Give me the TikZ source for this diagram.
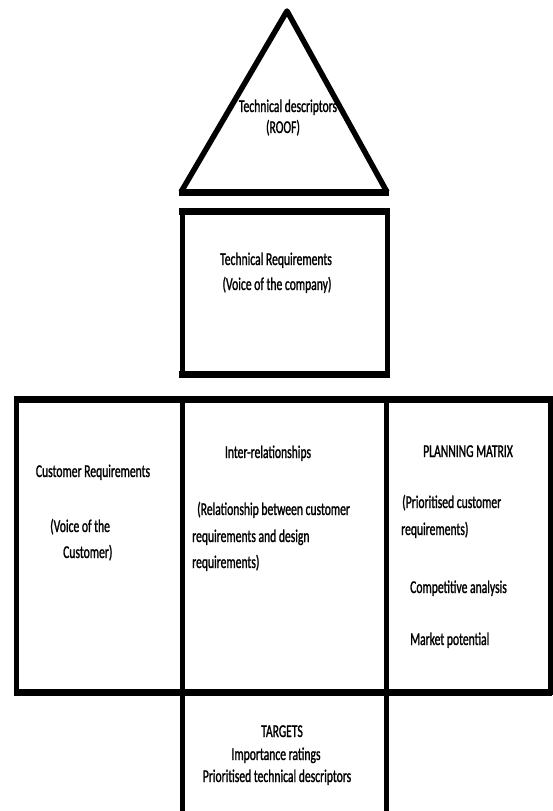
\documentclass[tikz,border=0pt]{standalone}
\usepackage{fontspec}
\setmainfont{Carlito}[FakeStretch=0.645,FakeBold=1.2,AutoFakeBold=1.2]
\begin{document}
\begin{tikzpicture}[x=1pt,y=-1pt,
  hline/.style={line width=7pt},
  vline/.style={line width=5pt},
  txt/.style={font=\fontsize{18}{21}\selectfont\bfseries, inner sep=0pt, text=black}]
\useasboundingbox[fill=white] (0,0) rectangle (552,811);
% roof
\draw[vline, line width=5.5pt, line join=round] (181,192) -- (287,11) -- (387,192);
\draw[hline] (179,192) -- (389,192);
% technical requirements box
\draw[hline] (179,211) -- (390,211);
\draw[hline] (179,374) -- (390,374);
\draw[vline] (182,208) -- (182,377);
\draw[vline] (387,208) -- (387,377);
% main row
\draw[hline] (13.5,399) -- (552,399);
\draw[hline] (13.5,692) -- (552,692);
\draw[vline] (16,396) -- (16,695);
\draw[vline] (182,396) -- (182,811);
\draw[vline] (386,396) -- (386,811);
\draw[vline] (550,396) -- (550,695);
% texts
\node[txt, anchor=base] (roofa) at (288,112) {Technical descriptors};
\node[txt, anchor=base] (roofb) at (283,133) {(ROOF)};
\node[txt, anchor=base] (treqa) at (276,265) {Technical Requirements};
\node[txt, anchor=base] (treqb) at (277,290) {(Voice of the company)};
\node[txt, anchor=base] (custa) at (93,477) {Customer Requirements};
\node[txt, anchor=base west] (custb) at (50,532) {(Voice of the};
\node[txt, anchor=base west] (custc) at (63,558) {Customer)};
\node[txt, anchor=base] (intera) at (268,458) {Inter-relationships};
\node[txt, anchor=base west] (interb) at (197,515) {(Relationship between customer};
\node[txt, anchor=base west] (interc) at (192,542) {requirements and design};
\node[txt, anchor=base west] (interd) at (192,568) {requirements)};
\node[txt, anchor=base] (plana) at (468,457) {PLANNING MATRIX};
\node[txt, anchor=base west] (planb) at (402,508) {(Prioritised customer};
\node[txt, anchor=base west] (planc) at (401,535) {requirements)};
\node[txt, anchor=base west] (pland) at (410,593) {Competitive analysis};
\node[txt, anchor=base west] (plane) at (410,645) {Market potential};
\node[txt, anchor=base] (targa) at (282,737) {TARGETS};
\node[txt, anchor=base] (targb) at (276,760) {Importance ratings};
\node[txt, anchor=base] (targc) at (277,782) {Prioritised technical descriptors};
\end{tikzpicture}
\end{document}
